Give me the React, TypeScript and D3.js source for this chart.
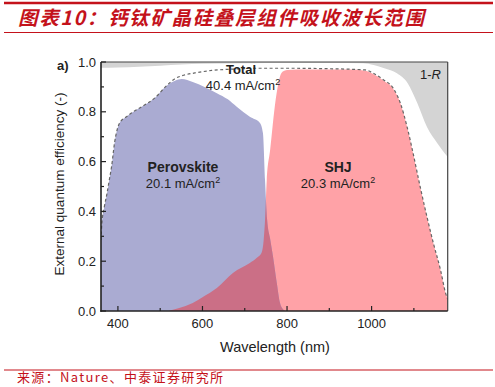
import React from "react";
import * as d3 from "d3";

// perovskite top cell EQE
const pvkNm = [360, 362, 368, 374, 380, 385, 392, 404, 420, 432, 456, 487, 515, 535, 551, 577, 605, 634, 660, 681, 712, 736, 743, 748, 753, 760, 767, 776, 783, 790, 796];
const pvkEqe = [0.285, 0.35, 0.42, 0.47, 0.53, 0.58, 0.675, 0.755, 0.78, 0.795, 0.82, 0.855, 0.905, 0.925, 0.932, 0.92, 0.9, 0.875, 0.85, 0.82, 0.78, 0.755, 0.715, 0.526, 0.365, 0.29, 0.217, 0.11, 0.035, 0.008, 0];

// silicon heterojunction bottom cell EQE
const shjNm = [520, 530, 560, 577, 600, 634, 672, 712, 728, 740, 745, 748, 752, 760, 773, 783, 790, 800, 850, 950, 985, 1004, 1027, 1051, 1068, 1084, 1098, 1115, 1131, 1146, 1163, 1175, 1181];
const shjEqe = [0, 0.005, 0.02, 0.032, 0.055, 0.092, 0.153, 0.193, 0.213, 0.235, 0.29, 0.365, 0.526, 0.647, 0.847, 0.94, 0.962, 0.968, 0.97, 0.97, 0.965, 0.952, 0.927, 0.893, 0.835, 0.739, 0.635, 0.498, 0.378, 0.273, 0.165, 0.072, 0.044];

// total (dashed)
const totNm = [360, 362, 368, 374, 380, 385, 392, 404, 420, 432, 456, 487, 515, 534, 558, 582, 622, 680, 730, 790, 900, 985, 1004, 1027, 1051, 1068, 1084, 1098, 1115, 1131, 1146, 1163, 1175, 1181];
const totEqe = [0.285, 0.35, 0.42, 0.47, 0.53, 0.58, 0.675, 0.755, 0.78, 0.795, 0.82, 0.855, 0.905, 0.932, 0.948, 0.956, 0.966, 0.972, 0.975, 0.975, 0.973, 0.968, 0.955, 0.93, 0.895, 0.835, 0.739, 0.635, 0.498, 0.378, 0.273, 0.165, 0.072, 0.044];

// 1-R
const refNm = [360, 400, 450, 500, 550, 600, 700, 800, 900, 980, 1005, 1030, 1060, 1085, 1108, 1131, 1155, 1181];
const refVal = [0.977, 0.978, 0.981, 0.985, 0.99, 0.993, 0.995, 0.996, 0.996, 0.995, 0.988, 0.975, 0.955, 0.916, 0.835, 0.739, 0.675, 0.617];

const xMajor = [400, 600, 800, 1000];
const xMinor = [500, 700, 900, 1100];
const yMajor = [0, 0.2, 0.4, 0.6, 0.8, 1.0];
const yMinor = [0.1, 0.3, 0.5, 0.7, 0.9];

const W = 495, H = 387;
const x = d3.scaleLinear().domain([360, 1180]).range([101, 447.7]);
const y = d3.scaleLinear().domain([0, 1]).range([311, 62]);

const zip = (a: number[], b: number[]) => a.map((d, i) => [d, b[i]] as [number, number]);

const area = d3.area<[number, number]>()
  .x(d => x(d[0]))
  .y0(y(0))
  .y1(d => y(d[1]))
  .curve(d3.curveMonotoneX);

const topArea = d3.area<[number, number]>()
  .x(d => x(d[0]))
  .y0(y(1))
  .y1(d => y(d[1]))
  .curve(d3.curveMonotoneX);

const line = d3.line<[number, number]>()
  .x(d => x(d[0]))
  .y(d => y(d[1]))
  .curve(d3.curveMonotoneX);

const font = "'Liberation Sans', Arial, Helvetica, sans-serif";
const cjk = "'Noto Sans CJK SC', sans-serif";
const red = "#c4121b";

export default function App() {
  const pvk = zip(pvkNm, pvkEqe);
  const shj = zip(shjNm, shjEqe);
  const tot = zip(totNm, totEqe);
  const ref = zip(refNm, refVal);
  const [x0, x1] = x.range();
  const [yb, yt] = y.range();

  return (
    <svg width={W} height={H} style={{ position: "absolute", left: 0, top: 0, background: "#fff" }}>
      {/* header */}
      <line x1={4} x2={493} y1={3} y2={3} stroke={red} strokeWidth={2.5} />
      <text x={18} y={25} fill={red} fontFamily={cjk} fontWeight="bold" fontStyle="italic" fontSize={19.5}
        textLength={406} lengthAdjust="spacing">图表10：钙钛矿晶硅叠层组件吸收波长范围</text>
      <line x1={4} x2={493} y1={32.5} y2={32.5} stroke={red} strokeWidth={1} />

      <defs>
        <clipPath id="plotClip">
          <rect x={x0} y={yt} width={x1 - x0} height={yb - yt} />
        </clipPath>
        <clipPath id="pvkClip">
          <path d={area(pvk) || ""} />
        </clipPath>
      </defs>

      <g clipPath="url(#plotClip)">
        <path d={topArea(ref) || ""} fill="#d4d4d4" />
        <path d={area(shj) || ""} fill="#ffa2a7" />
        <path d={area(pvk) || ""} fill="#aaabd2" />
        <path d={area(shj) || ""} fill="#cb6f86" clipPath="url(#pvkClip)" />
        <path d={line(tot) || ""} fill="none" stroke="#666" strokeWidth={1.2} strokeDasharray="3,2.5" />
      </g>

      {/* frame */}
      <line x1={x0} x2={x1} y1={yt} y2={yt} stroke="#444" strokeWidth={1.2} />
      <line x1={x1} x2={x1} y1={yt} y2={yb} stroke="#444" strokeWidth={1.2} />
      <line x1={x0} x2={x0} y1={yt} y2={yb + 0.8} stroke="#222" strokeWidth={1.6} />
      <line x1={x0 - 0.8} x2={x1} y1={yb} y2={yb} stroke="#222" strokeWidth={1.6} />

      {/* ticks */}
      {yMajor.map(v => (
        <g key={"ym" + v}>
          <line x1={x0} x2={x0 + 5} y1={y(v)} y2={y(v)} stroke="#222" strokeWidth={1.2} />
          <text x={96} y={y(v) + 4.5} textAnchor="end" fontFamily={font} fontSize={13} fill="#222">{v.toFixed(1)}</text>
        </g>
      ))}
      {yMinor.map(v => (
        <line key={"yn" + v} x1={x0} x2={x0 + 3} y1={y(v)} y2={y(v)} stroke="#222" strokeWidth={1.2} />
      ))}
      {xMajor.map(v => (
        <g key={"xm" + v}>
          <line x1={x(v)} x2={x(v)} y1={yb} y2={yb - 5} stroke="#222" strokeWidth={1.2} />
          <text x={x(v)} y={328} textAnchor="middle" fontFamily={font} fontSize={13} fill="#222">{v}</text>
        </g>
      ))}
      {xMinor.map(v => (
        <line key={"xn" + v} x1={x(v)} x2={x(v)} y1={yb} y2={yb - 3} stroke="#222" strokeWidth={1.2} />
      ))}

      {/* axis titles */}
      <text x={275} y={352} textAnchor="middle" fontFamily={font} fontSize={14.5} fill="#222">Wavelength (nm)</text>
      <text transform="translate(64,184) rotate(-90)" textAnchor="middle" fontFamily={font} fontSize={13.5} fill="#222">External quantum efficiency (-)</text>
      <text x={57} y={70} fontFamily={font} fontSize={13} fontWeight="bold" fill="#222">a)</text>

      {/* labels */}
      <text x={241} y={74} textAnchor="middle" fontFamily={font} fontSize={13} fontWeight="bold" fill="#222">Total</text>
      <text x={243} y={90} textAnchor="middle" fontFamily={font} fontSize={13} fill="#222">40.4 mA/cm<tspan dy={-5} fontSize={9}>2</tspan></text>
      <text x={183} y={172} textAnchor="middle" fontFamily={font} fontSize={14} fontWeight="bold" fill="#222">Perovskite</text>
      <text x={183} y={188} textAnchor="middle" fontFamily={font} fontSize={13} fill="#222">20.1 mA/cm<tspan dy={-5} fontSize={9}>2</tspan></text>
      <text x={338} y={172} textAnchor="middle" fontFamily={font} fontSize={14} fontWeight="bold" fill="#222">SHJ</text>
      <text x={338} y={188} textAnchor="middle" fontFamily={font} fontSize={13} fill="#222">20.3 mA/cm<tspan dy={-5} fontSize={9}>2</tspan></text>
      <text x={420} y={79} fontFamily={font} fontSize={13} fill="#222">1-<tspan fontStyle="italic">R</tspan></text>

      {/* footer */}
      <line x1={4} x2={493} y1={370} y2={370} stroke={red} strokeWidth={1} />
      <text x={17} y={382} fill={red} fontFamily={cjk} fontSize={13} textLength={206} lengthAdjust="spacing">来源：Nature、中泰证券研究所</text>
    </svg>
  );
}
